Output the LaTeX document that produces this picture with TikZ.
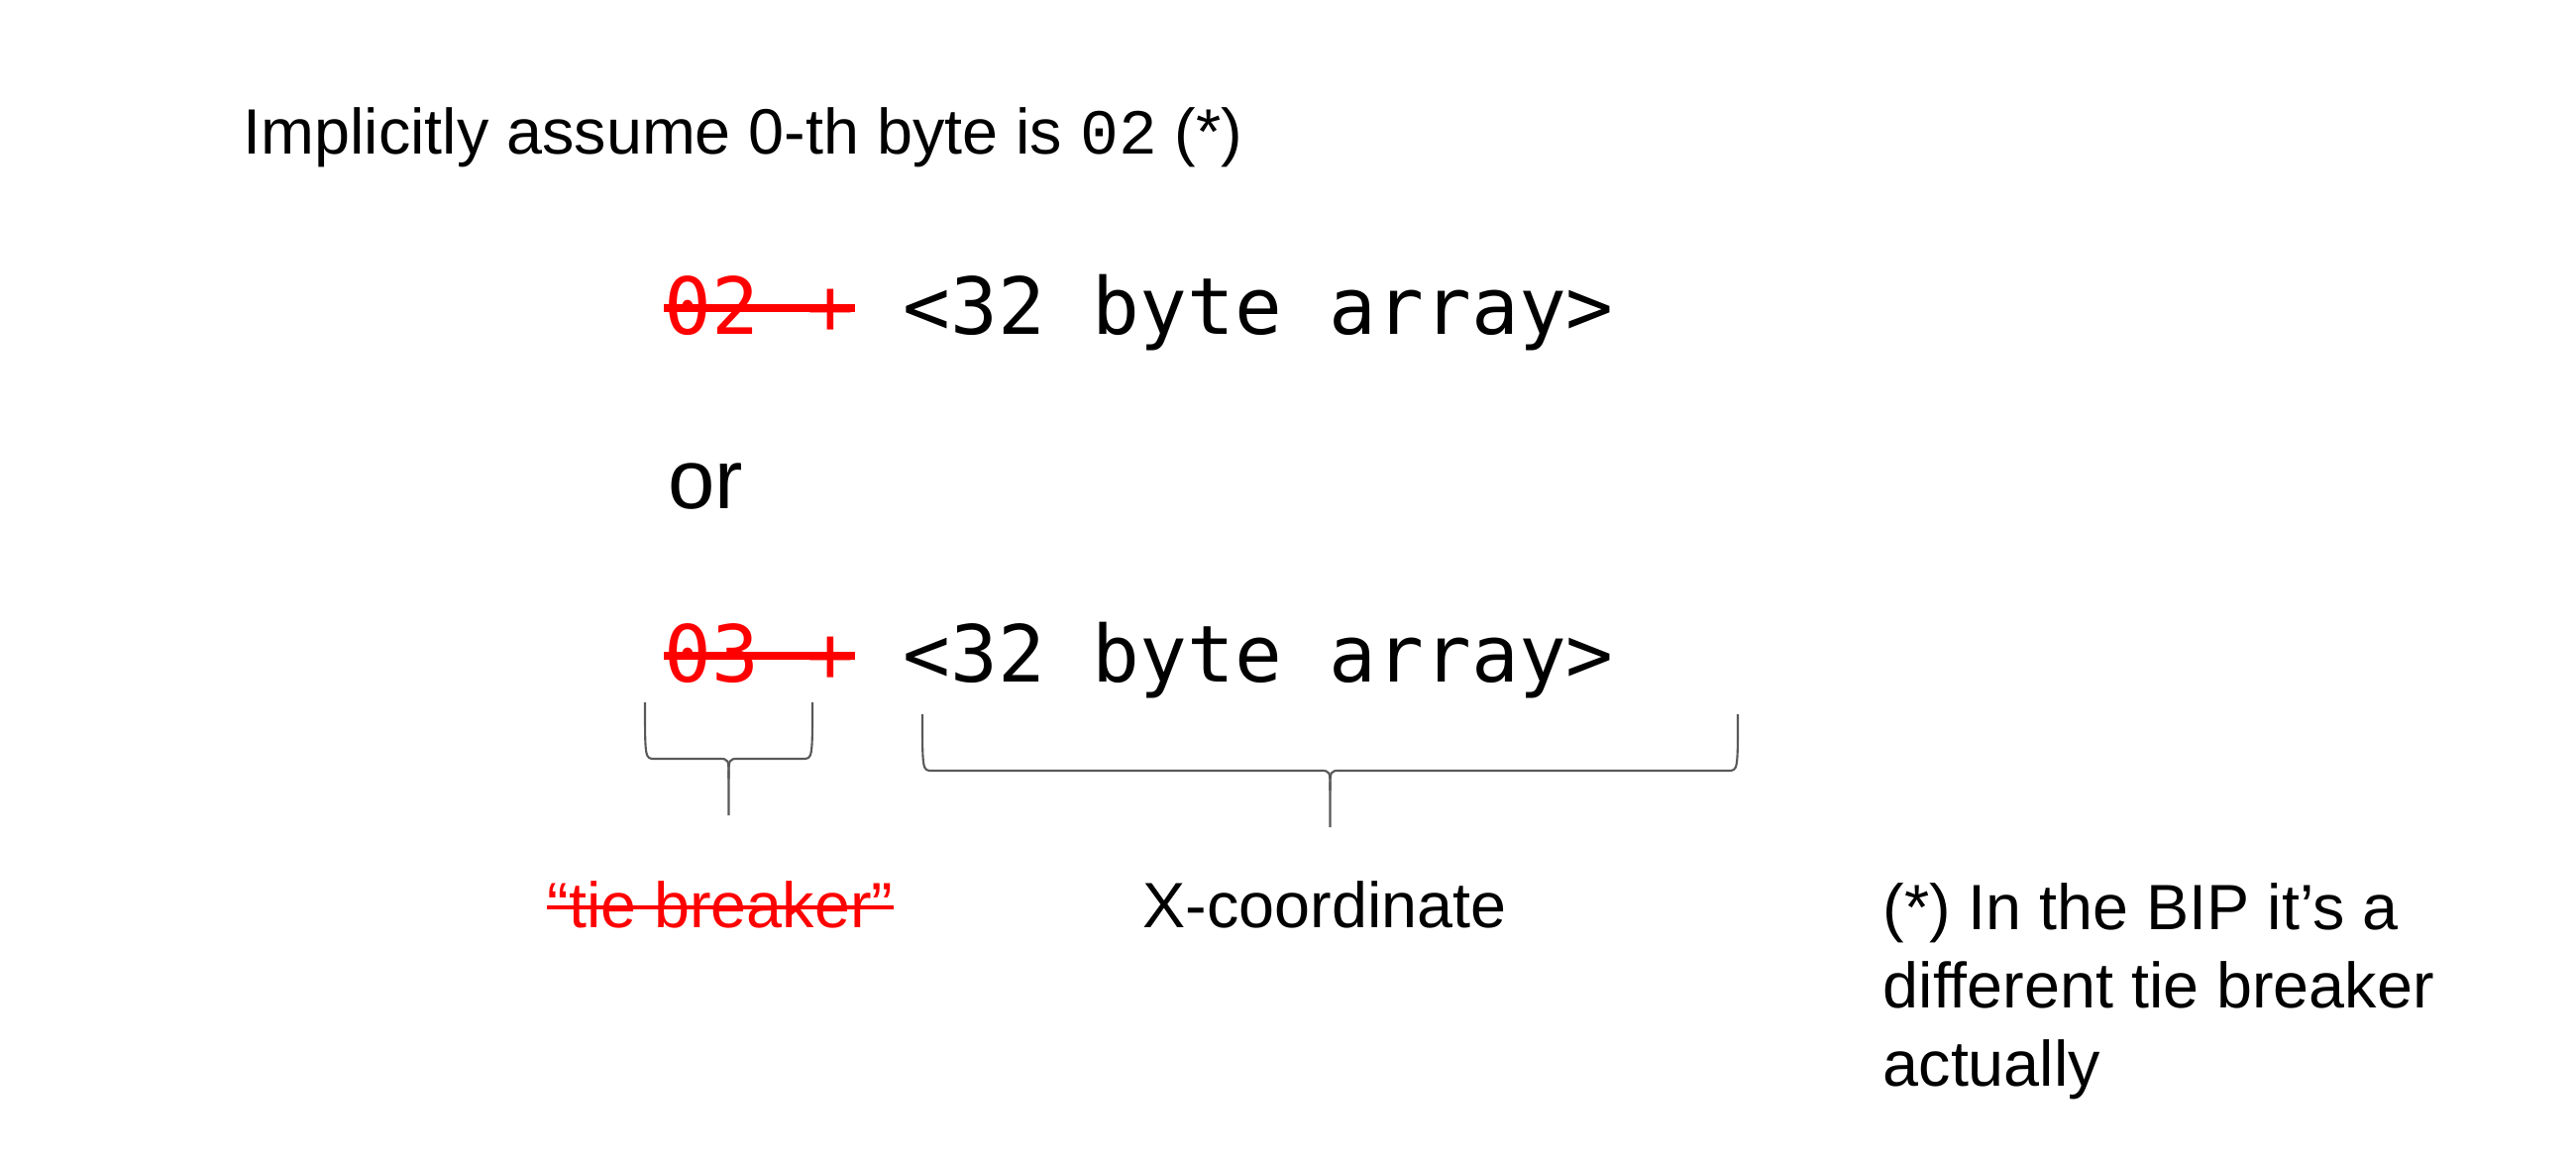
\documentclass[tikz,border=0pt]{standalone}
\usepackage{fontspec}
\setmainfont{Liberation Sans}
\newfontfamily\keyfont{DejaVu Sans Mono}
\newfontfamily\thinmono{Liberation Mono}
\usetikzlibrary{positioning}

\begin{document}
\begin{tikzpicture}[
        txt/.style={inner sep=0, anchor=base west, font=\fontsize{18.4}{22.4}\selectfont},
        keytext/.style={inner sep=0, anchor=base west, font=\keyfont\fontsize{22.6}{26}\selectfont},
        struck/.style={red, line width=2.2pt},
        bracestroke/.style={draw=black!65, line width=0.6pt}
    ]
        \useasboundingbox (0,0) rectangle (26,-11.69);

        % Heading
        \node [txt] (head) at (2.45,-1.55) {Implicitly assume 0-th byte is {\thinmono 02} (*)};

        % First key
        \node [keytext, red] (pre1) at (6.70,-3.37) {02 +};
        \node [keytext] (arr1) at ([xshift=0.48cm]pre1.base east) {<32 byte array>};
        \draw [struck] ([yshift=0.26cm]pre1.base west) -- ([yshift=0.26cm]pre1.base east);

        \node [txt, font=\fontsize{24.2}{28}\selectfont] (or) at (6.74,-5.13) {or};

        % Second key
        \node [keytext, red] (pre2) at (6.70,-6.88) {03 +};
        \node [keytext] (arr2) at ([xshift=0.48cm]pre2.base east) {<32 byte array>};
        \draw [struck] ([yshift=0.26cm]pre2.base west) -- ([yshift=0.26cm]pre2.base east);

        % Braces under the second key
        \foreach \xa/\xb/\ya/\yb/\yc in {6.51/8.20/-7.09/-7.66/-8.23, 9.31/17.54/-7.21/-7.78/-8.35}{
            \pgfmathsetmacro\xm{(\xa+\xb)/2}
            \draw [bracestroke] (\xa,\ya) .. controls (\xa,\yb) .. (\xa+0.1,\yb) -- (\xm-0.1,\yb)
                .. controls (\xm,\yb) .. (\xm,\yb-0.2) -- (\xm,\yc);
            \draw [bracestroke] (\xb,\ya) .. controls (\xb,\yb) .. (\xb-0.1,\yb) -- (\xm+0.1,\yb)
                .. controls (\xm,\yb) .. (\xm,\yb-0.2);
        }

        % Labels
        \node [txt, red] (tie) at (5.52,-9.36) {“tie breaker”};
        \draw [struck, line width=1.4pt] ([yshift=0.20cm]tie.base west) -- ([yshift=0.20cm]tie.base east);
        \node [txt] (xco) at (11.53,-9.36) {X-coordinate};
        \node [txt, align=left] (note) at (19.0,-10.96) {(*) In the BIP it’s a\\different tie breaker\\actually};
    \end{tikzpicture}
\end{document}
